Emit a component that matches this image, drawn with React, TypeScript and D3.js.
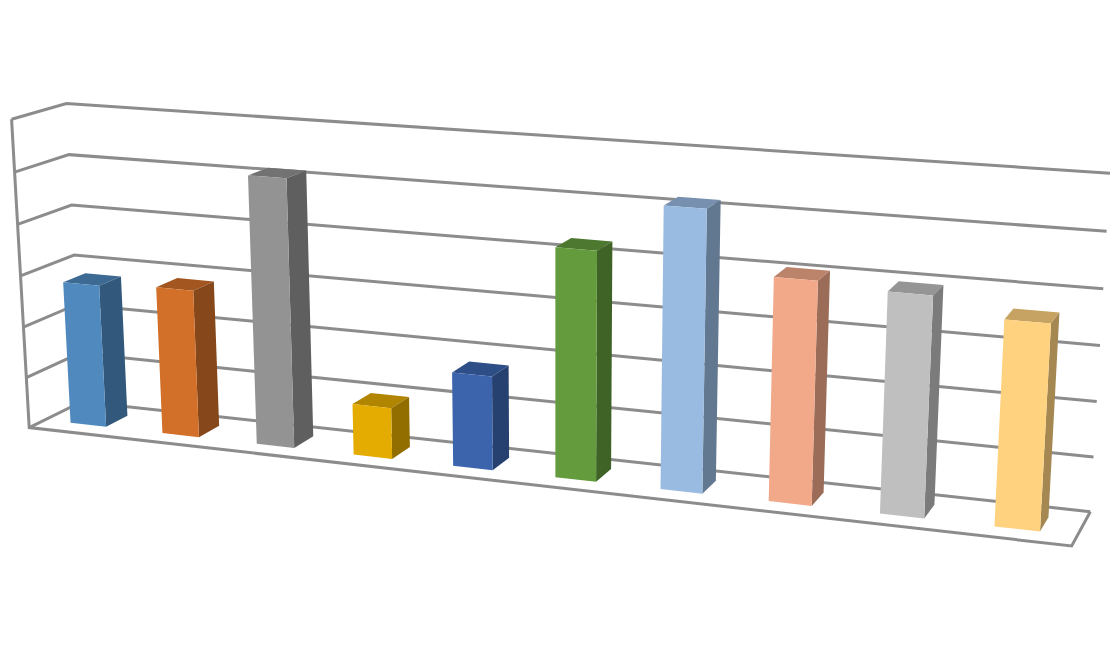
import React from "react";
import * as d3 from "d3";

// Chart values
const categories = ["1", "2", "3", "4", "5", "6", "7", "8", "9", "10"];
const values = [2.8, 2.87, 5.15, 0.98, 1.78, 4.27, 5.17, 4.06, 3.97, 3.66];
const faceColors = ["#4F89BD", "#D26F28", "#939393", "#E4AC00", "#3B64AD", "#639B3D", "#99BAE1", "#F2A98A", "#BFBFBF", "#FFD27F"];
const sideColors = ["#32597C", "#86471A", "#5F5F5F", "#926E00", "#26406F", "#3F6327", "#627790", "#9B6C58", "#7B7B7B", "#A48751"];
const topColors = ["#3D6A93", "#A3561F", "#727272", "#B18500", "#2E4E87", "#4D7830", "#7790AF", "#BC836B", "#959595", "#C6A362"];
const gridLevels = [0, 1, 2, 3, 4, 5, 6];

// Camera calibration: world [category fraction, value, depth] -> picture position of the plot box
const calibration: [number, number, number, number, number][] = [
  [0, 0, 0, 28, 427], [0, 1, 0, 27, 377], [0, 2, 0, 24, 326], [0, 3, 0, 21, 275], [0, 4, 0, 18, 224], [0, 5, 0, 15, 173], [0, 6, 0, 10, 121],
  [0, 6, 1, 67, 104], [0, 5, 1, 69, 154], [0, 4, 1, 71, 204], [0, 3, 1, 74, 254], [0, 0, 1, 82, 405],
  [1, 6, 1, 1110, 173], [1, 5, 1, 1107, 231], [1, 4, 1, 1103, 289], [1, 3, 1, 1100, 346], [1, 2, 1, 1097, 402], [1, 1, 1, 1093, 457], [1, 0, 1, 1090, 510],
  [1, 0, 0, 1072, 547],
];

const valueScale = d3.scaleLinear().domain([0, 6]).range([0, 1]);
const slotScale = d3.scaleBand<string>().domain(categories).range([-0.0015, 0.9985]).paddingInner(0.61).paddingOuter(0.3);
const depthFront = 0.29;
const depthBack = 0.71;

function solve(A: number[][], b: number[]): number[] {
  const n = b.length;
  const M = A.map((r, i) => [...r, b[i]]);
  for (let c = 0; c < n; c++) {
    let p = c;
    for (let r = c + 1; r < n; r++) if (Math.abs(M[r][c]) > Math.abs(M[p][c])) p = r;
    [M[c], M[p]] = [M[p], M[c]];
    for (let r = 0; r < n; r++) {
      if (r === c) continue;
      const f = M[r][c] / M[c][c];
      for (let k = c; k <= n; k++) M[r][k] -= f * M[c][k];
    }
  }
  return M.map((r, i) => r[n] / r[i]);
}

function fitCamera() {
  const rows: number[][] = [];
  const rhs: number[] = [];
  for (const [fx, v, z, px, py] of calibration) {
    const X = fx, Y = valueScale(v), Z = z, u = px / 1000, w = py / 1000;
    rows.push([X, Y, Z, 1, 0, 0, 0, 0, -u * X, -u * Y, -u * Z]); rhs.push(u);
    rows.push([0, 0, 0, 0, X, Y, Z, 1, -w * X, -w * Y, -w * Z]); rhs.push(w);
  }
  const n = 11;
  const AtA = d3.range(n).map((i) => d3.range(n).map((j) => d3.sum(rows, (r) => r[i] * r[j])));
  const Atb = d3.range(n).map((i) => d3.sum(rows, (r, k) => r[i] * rhs[k]));
  return solve(AtA, Atb);
}
const P = fitCamera();
function project(fx: number, v: number, z: number): [number, number] {
  const Y = valueScale(v);
  const d = P[8] * fx + P[9] * Y + P[10] * z + 1;
  return [
    (1000 * (P[0] * fx + P[1] * Y + P[2] * z + P[3])) / d,
    (1000 * (P[4] * fx + P[5] * Y + P[6] * z + P[7])) / d,
  ];
}

const path = d3.line<[number, number]>();
const poly = (pts: [number, number][]) => path(pts)! + "Z";
const GRID = "#8C8C8C";

export default function App() {
  return (
    <svg width={1120} height={668} style={{ position: "absolute", left: 0, top: 0, background: "#fff" }}>
      <g fill="none" stroke={GRID} strokeWidth={3} strokeLinejoin="miter">
        {gridLevels.map((lv) => (
          <path key={lv} d={path([project(0, lv, 0), project(0, lv, 1), project(1, lv, 1)])!} />
        ))}
        <path d={path([project(0, 6, 0), project(0, 0, 0), project(1, 0, 0), project(1, 0, 1)])!} />
      </g>
      {categories.map((c, i) => {
        const x0 = slotScale(c)!;
        const x1 = x0 + slotScale.bandwidth();
        const v = values[i];
        return (
          <g key={c}>
            <path fill={topColors[i]} d={poly([project(x0, v, depthFront), project(x1, v, depthFront), project(x1, v, depthBack), project(x0, v, depthBack)])} />
            <path fill={sideColors[i]} d={poly([project(x1, 0, depthFront), project(x1, v, depthFront), project(x1, v, depthBack), project(x1, 0, depthBack)])} />
            <path fill={faceColors[i]} d={poly([project(x0, 0, depthFront), project(x1, 0, depthFront), project(x1, v, depthFront), project(x0, v, depthFront)])} />
          </g>
        );
      })}
    </svg>
  );
}
